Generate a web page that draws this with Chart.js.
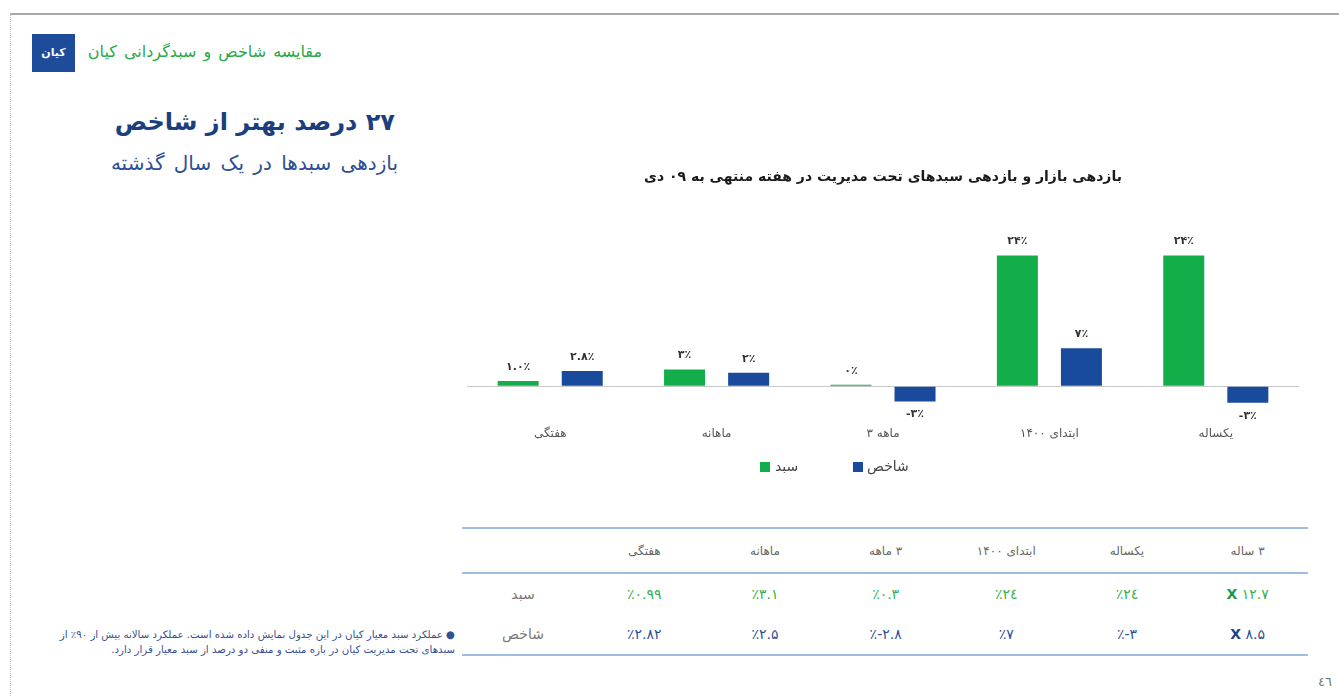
<!DOCTYPE html>
<html lang="fa">
<head>
<meta charset="utf-8">
<title>مقایسه شاخص و سبدگردانی کیان</title>
<script src="https://cdn.jsdelivr.net/npm/chart.js@4/dist/chart.umd.min.js"></script>
<style>
  html, body { margin: 0; padding: 0; background: #fff; }
  body { width: 1339px; height: 696px; position: relative; overflow: hidden;
         font-family: "DejaVu Sans", "Noto Sans", sans-serif; }
  .frameTop { position: absolute; left: 10px; top: 13px; width: 1329px; height: 2px; background: #a9a9a9; }
  .frameLeft { position: absolute; left: 10px; top: 14px; width: 0; height: 682px; border-left: 1px dotted #c8c8c8; }
  .logo { position: absolute; left: 32px; top: 34px; width: 43px; height: 38px; background: #1e4c9a;
          color: #fff; font-weight: bold; font-size: 11px; line-height: 38px; text-align: center; }
  .abs { position: absolute; white-space: nowrap; direction: rtl; }
  #chartBox { position: absolute; left: 460px; top: 160px; width: 850px; height: 300px; }
  .legend { position: absolute; top: 456px; height: 20px; font-size: 14px; color: #444; line-height: 20px; }
  .legend i { position: absolute; top: 6px; width: 10px; height: 10px; }
  table { position: absolute; left: 462px; top: 527px; width: 846px; border-collapse: collapse; table-layout: fixed; }
  td { text-align: center; padding: 0; }
  tr.head td { height: 43px; font-size: 12px; color: #666; direction: rtl; border-top: 2px solid #9fbde2; border-bottom: 2px solid #9fbde2; }
  tr.row td { height: 40px; font-size: 14px; direction: ltr; }
  tr.last td { border-bottom: 2px solid #9fbde2; }
  td.rowName { font-size: 15px; color: #777; direction: rtl; }
</style>
</head>
<body>
<div class="frameTop"></div>
<div class="frameLeft"></div>
<div class="logo">کیان</div>
<div class="abs" style="right:1017px; top:42px; font-size:16px; color:#2aa84a; word-spacing:2px;">مقایسه شاخص و سبدگردانی کیان</div>
<div class="abs" style="right:944px; top:108px; font-size:24px; font-weight:bold; color:#1b3f7e;">۲۷ درصد بهتر از شاخص</div>
<div class="abs" style="right:941px; top:151px; font-size:20px; color:#2d4f95; word-spacing:3px;">بازدهی سبدها در یک سال گذشته</div>

<div id="chartBox"><canvas id="returnsChart"></canvas></div>

<div class="legend" style="left:760px;"><i style="left:0; background:#13ad4a;"></i><span style="position:absolute; left:15px;">سبد</span></div>
<div class="legend" style="left:853px;"><i style="left:0; background:#1a4a9b;"></i><span style="position:absolute; left:14px;">شاخص</span></div>

<table id="perfTable"></table>

<div class="abs" style="right:884px; top:627px; font-size:10.2px; color:#34508f; text-align:right; line-height:15px;">● عملکرد سبد معیار کیان در این جدول نمایش داده شده است. عملکرد سالانه بیش از ۹۰٪ از<br>سبدهای تحت مدیریت کیان در بازه مثبت و منفی دو درصد از سبد معیار قرار دارد.</div>
<div class="abs" style="left:1318px; top:674px; font-size:13px; color:#777;">٤٦</div>

<script>
// داده‌های نمودار
const categories = ['هفتگی', 'ماهانه', '۳ ماهه', 'ابتدای ۱۴۰۰', 'یکساله'];
const sabadValues = [0.99, 3.1, 0.3, 24, 24];
const shakhesValues = [2.82, 2.5, -2.8, 7, -3];
const sabadLabels = ['۱.۰٪', '۳٪', '۰٪', '۲۴٪', '۲۴٪'];
const shakhesLabels = ['۲.۸٪', '۲٪', '-۳٪', '۷٪', '-۳٪'];

// داده‌های جدول (از راست به چپ)
const tableHeaders = ['۳ ساله', 'یکساله', 'ابتدای ۱۴۰۰', '۳ ماهه', 'ماهانه', 'هفتگی'];
const sabadMultiple = '۱۲.۷';
const shakhesMultiple = '۸.۵';
const sabadRow = ['٪۲٤', '٪۲٤', '٪۰.۳', '٪۳.۱', '٪۰.۹۹'];
const shakhesRow = ['٪-۳', '٪۷', '٪-۲.۸', '٪۲.۵', '٪۲.۸۲'];

const green = '#13ad4a';
const blue = '#1a4a9b';

// Table
function buildTable() {
    const table = document.getElementById('perfTable');
    let html = '<colgroup><col style="width:122px">' + '<col style="width:120.67px">'.repeat(6) + '</colgroup>';
    // columns appear left to right, so reverse the RTL lists
    html += '<tr class="head"><td></td>' + tableHeaders.slice().reverse().map(h => '<td>' + h + '</td>').join('') + '</tr>';
    html += '<tr class="row"><td class="rowName">سبد</td>' +
        sabadRow.slice().reverse().map(v => '<td style="color:#2fb24d">' + v + '</td>').join('') +
        '<td style="color:#2fb24d"><b style="color:#139a45">X</b> ' + sabadMultiple + '</td></tr>';
    html += '<tr class="row last"><td class="rowName">شاخص</td>' +
        shakhesRow.slice().reverse().map(v => '<td style="color:#2d4f9a">' + v + '</td>').join('') +
        '<td style="color:#2d4f9a"><b style="color:#1e3f8a">X</b> ' + shakhesMultiple + '</td></tr>';
    table.innerHTML = html;
}
buildTable();

// Value labels above / below bars
const valueLabels = {
    id: 'valueLabels',
    afterDatasetsDraw(chart) {
        const ctx = chart.ctx;
        const texts = [sabadLabels, shakhesLabels];
        ctx.save();
        ctx.font = 'bold 11px "DejaVu Sans", sans-serif';
        ctx.fillStyle = '#333';
        ctx.textAlign = 'center';
        ctx.textBaseline = 'middle';
        chart.data.datasets.forEach((ds, i) => {
            chart.getDatasetMeta(i).data.forEach((bar, j) => {
                const v = ds.data[j];
                const y = v >= 0 ? bar.y - 14 : bar.y + 13;
                ctx.fillText(texts[i][j], bar.x, y);
            });
        });
        ctx.restore();
    }
};

new Chart(document.getElementById('returnsChart').getContext('2d'), {
    type: 'bar',
    data: {
        labels: categories,
        datasets: [
            {
                label: 'سبد',
                data: sabadValues,
                backgroundColor: green,
                categoryPercentage: 0.77,
                barPercentage: 0.64
            },
            {
                label: 'شاخص',
                data: shakhesValues,
                backgroundColor: blue,
                categoryPercentage: 0.77,
                barPercentage: 0.64
            }
        ]
    },
    options: {
        responsive: true,
        maintainAspectRatio: false,
        animation: false,
        layout: {
            padding: { left: 7, right: 11, bottom: 14 }
        },
        scales: {
            x: {
                grid: { display: false },
                border: { display: false },
                ticks: {
                    padding: 5,
                    color: '#555',
                    font: { size: 12, family: '"DejaVu Sans", sans-serif' }
                }
            },
            y: {
                min: -5,
                max: 28,
                border: { display: false },
                grid: {
                    drawTicks: false,
                    color: ctx => ctx.tick && ctx.tick.value === 0 ? '#c8c8c8' : 'transparent'
                },
                ticks: { display: false, stepSize: 5 }
            }
        },
        plugins: {
            legend: { display: false },
            tooltip: { enabled: false },
            title: {
                display: true,
                fullSize: false,
                text: 'بازدهی بازار و بازدهی سبدهای تحت مدیریت در هفته منتهی به ۰۹ دی',
                color: '#1a1a1a',
                font: { size: 14, weight: 'bold', family: '"DejaVu Sans", sans-serif' },
                padding: { top: 9, bottom: 48 }
            }
        }
    },
    plugins: [valueLabels]
});
</script>
</body>
</html>
